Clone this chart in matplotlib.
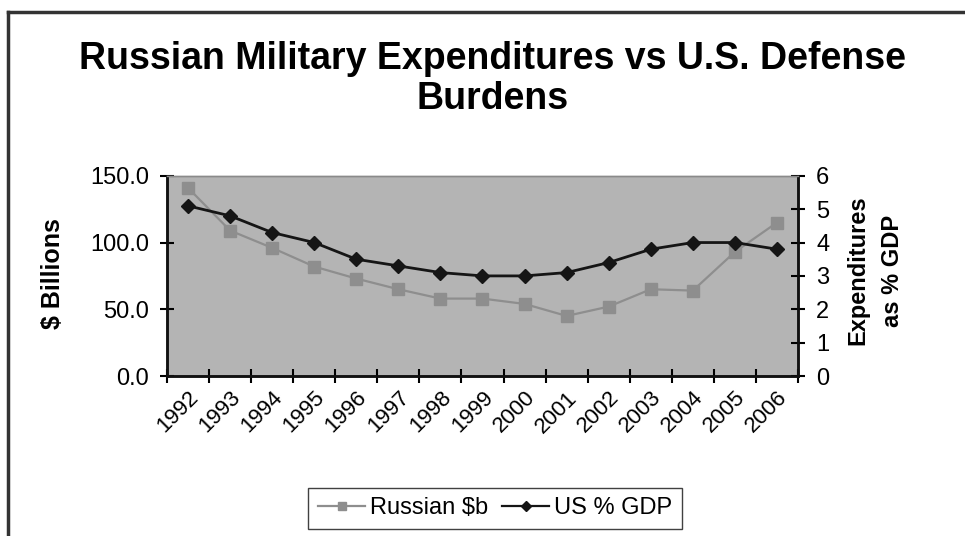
import matplotlib
matplotlib.use("Agg")
import matplotlib.pyplot as plt
from matplotlib.lines import Line2D

plt.rcParams['font.family'] = ['Liberation Sans', 'DejaVu Sans']

# data
years = ['1992', '1993', '1994', '1995', '1996', '1997', '1998', '1999',
         '2000', '2001', '2002', '2003', '2004', '2005', '2006']
russian_bn = [141, 109, 96, 82, 73, 65, 58, 58, 54, 45, 52, 65, 64, 93, 115]
us_pct_gdp = [5.1, 4.8, 4.3, 4.0, 3.5, 3.3, 3.1, 3.0, 3.0, 3.1, 3.4, 3.8, 4.0, 4.0, 3.8]

fig = plt.figure(figsize=(9.65, 5.36), dpi=100)
ax = fig.add_axes([0.173, 0.2985, 0.654, 0.3735])
ax2 = ax.twinx()

x = list(range(len(years)))
ax.set_facecolor('#b4b4b4')
ax.plot(x, russian_bn, color='#8e8e8e', lw=1.6, marker='s', ms=8,
        mfc='#8e8e8e', mec='#8e8e8e', zorder=3)
ax2.plot(x, us_pct_gdp, color='#151515', lw=2.0, marker='D', ms=7,
         mfc='#151515', mec='#151515', zorder=4)

ax.set_xlim(-0.5, len(years) - 0.5)
ax.set_ylim(0, 150)
ax2.set_ylim(0, 6)
ax.set_yticks([0, 50, 100, 150])
ax.set_yticklabels(['0.0', '50.0', '100.0', '150.0'])
ax2.set_yticks(range(7))

# tick marks sit between categories, labels at the category centres
ax.set_xticks([i - 0.5 for i in range(len(years) + 1)])
ax.set_xticklabels([])
ax.set_xticks(x, minor=True)
ax.set_xticklabels(years, minor=True, rotation=45, ha='right',
                   rotation_mode='anchor', fontsize=16)
ax.tick_params(axis='x', which='minor', length=0, pad=8)
ax.tick_params(axis='x', which='major', direction='inout', length=10, width=1.5)
ax.tick_params(axis='y', direction='inout', length=10, width=1.5, labelsize=17, pad=8)
ax2.tick_params(axis='y', direction='inout', length=10, width=1.5, labelsize=17, pad=8)

for a in (ax, ax2):
    for side in ('left', 'right', 'bottom'):
        a.spines[side].set_linewidth(1.8)
        a.spines[side].set_color('#111111')
    a.spines['top'].set_color('#8a8a8a')
    a.spines['top'].set_linewidth(1.0)

fig.text(0.055, 0.49, '$ Billions', rotation=90, ha='center', va='center',
         fontsize=18, fontweight='bold')
fig.text(0.907, 0.495, 'Expenditures\nas % GDP', rotation=90, ha='center',
         va='center', fontsize=17, fontweight='bold', linespacing=1.6)

fig.text(0.51, 0.853, 'Russian Military Expenditures vs U.S. Defense\nBurdens',
         ha='center', va='center', fontsize=27, fontweight='bold',
         linespacing=1.15)

handles = [Line2D([], [], color='#8e8e8e', lw=1.6, marker='s', ms=6),
           Line2D([], [], color='#151515', lw=1.6, marker='D', ms=5)]
fig.legend(handles, ['Russian $b', 'US % GDP'], loc='center',
           bbox_to_anchor=(0.513, 0.052), ncol=2, fontsize=17, frameon=True,
           fancybox=False, edgecolor='#111111', handlelength=2.0,
           columnspacing=0.6, handletextpad=0.2, borderpad=0.4)

# outer chart frame (right and bottom edges run off the picture)
fig.add_artist(Line2D([0.008, 0.008], [0.0, 0.978], color='#333333', lw=2.5))
fig.add_artist(Line2D([0.008, 1.0], [0.978, 0.978], color='#333333', lw=2.5))

fig.savefig('out.png', dpi=100)
